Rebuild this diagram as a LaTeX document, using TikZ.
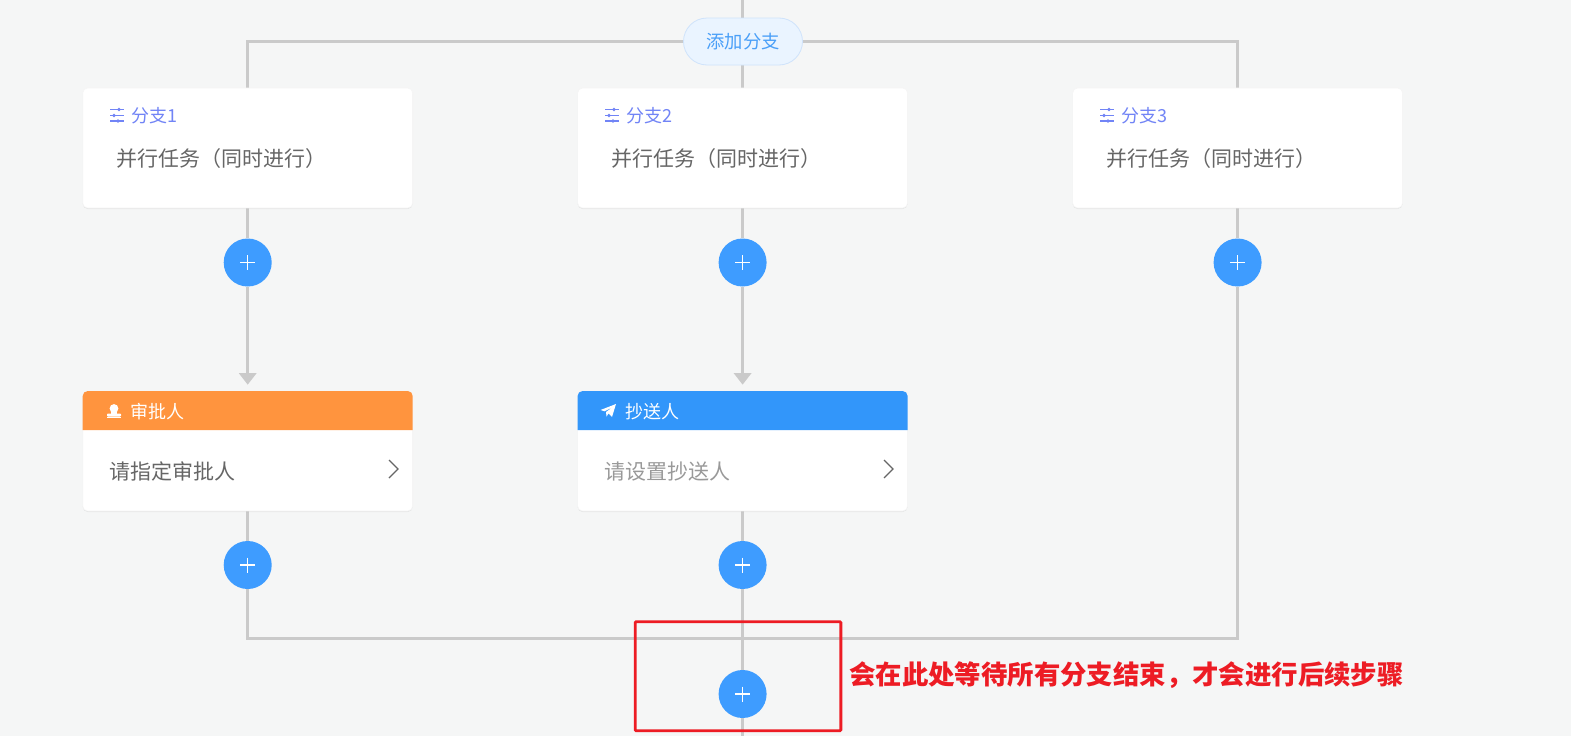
\documentclass[tikz,border=0pt]{standalone}
\usepackage{fontspec}
\setmainfont{Noto Sans CJK SC}
\usetikzlibrary{arrows.meta,shadows,calc}
\pgfdeclarelayer{bg}
\pgfsetlayers{bg,main}
\definecolor{pagebg}{HTML}{F5F6F6}
\definecolor{wire}{HTML}{CACACA}
\definecolor{txt}{HTML}{666666}
\definecolor{hint}{HTML}{999999}
\definecolor{branch}{HTML}{7184F6}
\definecolor{addtxt}{HTML}{4A9FF8}
\definecolor{addfill}{HTML}{EAF4FF}
\definecolor{addline}{HTML}{CFE3FB}
\definecolor{hdorange}{HTML}{FF943E}
\definecolor{hdblue}{HTML}{3296FA}
\definecolor{plusblue}{HTML}{3E9CFF}
\definecolor{alert}{HTML}{ED1C24}
\newcommand{\fs}[1]{\fontsize{#1pt}{#1pt}\selectfont}
\tikzset{
  x=1pt,y=-1pt,
  wireline/.style={draw=wire,line width=3pt},
  cardbox/.style={rectangle,rounded corners=5pt,fill=white,draw=black!4,line width=.6pt,minimum width=330pt,minimum height=#1,inner sep=0pt,
    drop shadow={shadow xshift=0pt,shadow yshift=-1pt,opacity=.07,fill=black}},
  plusbtn/.style={circle,fill=plusblue,minimum size=48pt,inner sep=0pt,
    path picture={\draw[white,line width=1.1pt] ($(path picture bounding box.center)+(-7.5,0)$) -- ($(path picture bounding box.center)+(7.5,0)$)
      ($(path picture bounding box.center)+(0,-7.5)$) -- ($(path picture bounding box.center)+(0,7.5)$);}},
  addbtn/.style={rectangle,rounded corners=23.5pt,fill=addfill,draw=addline,line width=.8pt,minimum width=119pt,minimum height=47pt,inner sep=0pt,text=addtxt,font=\fs{18.3}},
  arrowtip/.style={-{Triangle[length=11.5pt,width=17pt,color=wire]}},
  branchlab/.style={anchor=base west,inner sep=0pt,text=branch,font=\fs{18}},
  bodylab/.style={anchor=base west,inner sep=0pt,text=txt,font=\fs{21}},
  hdlab/.style={anchor=base west,inner sep=0pt,text=white,font=\fs{18}},
  tasklab/.style={anchor=base west,inner sep=0pt,font=\fs{21}},
  chevron/.style={draw=txt,line width=1.2pt},
  slider/.style={draw=branch,line width=1.2pt},
}
\begin{document}
\begin{tikzpicture}
\useasboundingbox (0,0) rectangle (1571,736);
% free ends
\coordinate (topend) at (742.6,0);
\coordinate (botend) at (742.6,736);
\coordinate (joinM) at (742.6,638);
% nodes
\node[addbtn] (add) at (743,41.5) {添加分支};
\node[cardbox=120pt] (c1) at (247.7,148) {};
\node[cardbox=120pt] (c2) at (742.6,148) {};
\node[cardbox=120pt] (c3) at (1237.6,148) {};
\node[plusbtn] (p1) at (247.7,262.5) {};
\node[plusbtn] (p2) at (742.6,262.5) {};
\node[plusbtn] (p3) at (1237.6,262.5) {};
\node[cardbox=120pt] (t1) at (247.7,451) {};
\node[cardbox=120pt] (t2) at (742.6,451) {};
\node[plusbtn] (q1) at (247.7,565) {};
\node[plusbtn] (q2) at (742.6,565) {};
\node[plusbtn] (last) at (742.6,694) {};
% connectors
\begin{pgfonlayer}{bg}
\fill[pagebg] (0,0) rectangle (1571,736);
\draw[wireline] (topend) -- (c2.north);
\draw[wireline] (add.west) -| (c1.north);
\draw[wireline] (add.east) -| (c3.north);
\draw[wireline] (c1.south) -- (p1.north);
\draw[wireline] (c2.south) -- (p2.north);
\draw[wireline] (c3.south) -- (p3.north);
\draw[wireline,arrowtip] (p1.south) -- ($(t1.north)+(0,-6)$);
\draw[wireline,arrowtip] (p2.south) -- ($(t2.north)+(0,-6)$);
\draw[wireline] (t1.south) -- (q1.north);
\draw[wireline] (t2.south) -- (q2.north);
\draw[wireline] (q1.south) |- (joinM);
\draw[wireline] (p3.south) |- (joinM);
\draw[wireline] (q2.south) -- (last.north);
\draw[wireline] (last.south) -- (botend);
\end{pgfonlayer}
% card headers
\fill[hdorange] (82.7,430) -- (82.7,396) arc[start angle=180,end angle=90,radius=5pt] -- (407.7,391) arc[start angle=90,end angle=0,radius=5pt] -- (412.7,430) -- cycle;
\fill[hdblue] (577.6,430) -- (577.6,396) arc[start angle=180,end angle=90,radius=5pt] -- (902.6,391) arc[start angle=90,end angle=0,radius=5pt] -- (907.6,430) -- cycle;
% branch labels
\foreach \ox/\lab/\nm in {0/1/ba,495/2/bb,990/3/bc}{
  \begin{scope}[shift={(\ox pt,0)}]
    \draw[slider] (110,109.5) -- (124,109.5) (110,115.5) -- (124,115.5) (110,121) -- (124,121);
    \fill[branch] (119,109.5) circle (1.8pt) (114,115.5) circle (1.8pt) (118,121) circle (1.8pt);
    \node[branchlab] (\nm) at (131,122) {分支\lab};
    \node[bodylab] (\nm t) at (116.7,166.5) {并行任务（同时进行）};
  \end{scope}
}
% orange header
\fill[white] (114,408.5) circle (4.4pt);
\fill[white] (111.5,410) -- (116.5,410) -- (117,414) -- (111,414) -- cycle;
\fill[white,rounded corners=.8pt] (107,413.5) rectangle (121,416.5);
\fill[white] (107,417.3) rectangle (121,418.3);
\node[hdlab] (h1) at (130.3,418) {审批人};
\node[tasklab,text=txt] (b1) at (109.5,479) {请指定审批人};
\draw[chevron] (389,460) -- (398,469) -- (389,478);
% blue header
\fill[white] (616,404) -- (612,417) -- (608.5,413.5) -- (606.5,416.5) -- (606,412) -- (613,407) -- (604.5,411.3) -- (600.5,410) -- cycle;
\node[hdlab] (h2) at (625.3,418) {抄送人};
\node[tasklab,text=hint] (b2) at (604.5,479) {请设置抄送人};
\draw[chevron] (884,460) -- (893,469) -- (884,478);
% annotation
\node[draw=alert,line width=2.8pt,rectangle,rounded corners=1pt,inner sep=0pt,minimum width=205.7pt,minimum height=109pt] (mark) at (738,676.2) {};
\node[anchor=base west,inner sep=0pt,text=alert,font=\bfseries\fs{26.4}] (note) at (849,684) {会在此处等待所有分支结束，才会进行后续步骤};
\end{tikzpicture}
\end{document}
